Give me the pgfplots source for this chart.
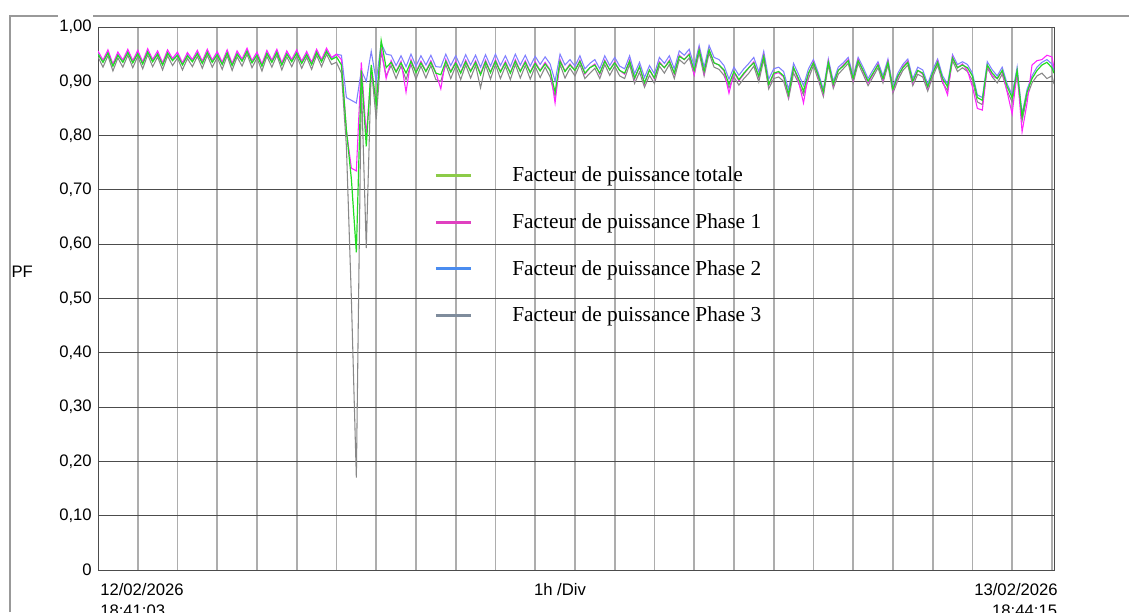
\documentclass[border=0pt]{standalone}
\usepackage{fontspec}
\setmainfont{Liberation Sans}
\newfontfamily\legendfont{Liberation Serif}
\usepackage{pgfplots}
\usepackage{pgfplotstable}
\pgfplotsset{compat=1.18}
\definecolor{cG}{HTML}{22DD22}
\definecolor{cM}{HTML}{FF22FF}
\definecolor{cB}{HTML}{8080FF}
\definecolor{cGr}{HTML}{888888}
\definecolor{lG}{HTML}{8CCB48}
\definecolor{lM}{HTML}{E040C0}
\definecolor{lB}{HTML}{4A8CF0}
\definecolor{lGr}{HTML}{7F8C9C}

\pgfplotstableread{
h G M B Gr
0.000 .950 .956 .952 .945
0.125 .935 .939 .936 .926
0.250 .952 .958 .954 .947
0.375 .928 .932 .929 .919
0.500 .948 .954 .950 .943
0.625 .935 .939 .936 .926
0.750 .953 .959 .955 .948
0.875 .934 .938 .935 .925
1.000 .951 .957 .953 .946
1.125 .932 .936 .933 .923
1.250 .954 .960 .956 .949
1.375 .936 .940 .937 .927
1.500 .950 .956 .952 .945
1.625 .930 .934 .931 .921
1.750 .952 .958 .954 .947
1.875 .938 .942 .939 .929
2.000 .948 .954 .950 .943
2.125 .930 .934 .931 .921
2.250 .947 .953 .949 .942
2.375 .936 .940 .937 .927
2.500 .951 .957 .953 .946
2.625 .933 .937 .934 .924
2.750 .953 .959 .955 .948
2.875 .935 .939 .936 .926
3.000 .949 .955 .951 .944
3.125 .931 .935 .932 .922
3.250 .952 .958 .954 .947
3.375 .929 .933 .930 .920
3.500 .950 .956 .952 .945
3.625 .937 .941 .938 .928
3.750 .955 .961 .957 .950
3.875 .934 .938 .935 .925
4.000 .948 .954 .950 .943
4.125 .928 .932 .929 .919
4.250 .951 .957 .953 .946
4.375 .935 .939 .936 .926
4.500 .953 .959 .955 .948
4.625 .930 .934 .931 .921
4.750 .950 .956 .952 .945
4.875 .936 .940 .937 .927
5.000 .952 .958 .954 .947
5.125 .933 .937 .934 .924
5.250 .949 .955 .951 .944
5.375 .931 .935 .932 .922
5.500 .953 .959 .955 .948
5.625 .936 .940 .937 .927
5.750 .955 .961 .957 .950
5.875 .940 .944 .941 .931
6.000 .945 .950 .950 .935
6.125 .930 .940 .948 .915
6.250 .810 .810 .870 .780
6.375 .720 .740 .865 .500
6.500 .585 .735 .860 .170
6.625 .920 .935 .920 .900
6.750 .780 .800 .900 .593
6.875 .930 .920 .955 .925
7.000 .857 .860 .900 .830
7.125 .975 .960 .970 .955
7.250 .925 .905 .950 .910
7.375 .935 .938 .948 .929
7.500 .917 .918 .929 .905
7.625 .934 .937 .947 .928
7.750 .915 .880 .927 .903
7.875 .937 .940 .950 .931
8.000 .916 .917 .928 .904
8.125 .934 .937 .947 .928
8.250 .918 .919 .930 .906
8.375 .935 .938 .948 .929
8.500 .915 .916 .927 .903
8.625 .912 .886 .926 .900
8.750 .937 .940 .950 .931
8.875 .917 .918 .929 .905
9.000 .934 .937 .947 .928
9.125 .915 .916 .927 .903
9.250 .936 .939 .949 .930
9.375 .918 .919 .930 .906
9.500 .935 .938 .948 .929
9.625 .912 .914 .926 .888
9.750 .936 .939 .949 .930
9.875 .916 .917 .928 .904
10.000 .937 .940 .950 .931
10.125 .917 .918 .929 .905
10.250 .934 .937 .947 .928
10.375 .915 .916 .927 .903
10.500 .937 .940 .950 .931
10.625 .918 .919 .930 .906
10.750 .935 .938 .948 .929
10.875 .916 .917 .928 .904
11.000 .933 .936 .946 .927
11.125 .919 .920 .931 .907
11.250 .932 .935 .945 .926
11.375 .920 .921 .932 .908
11.500 .880 .860 .900 .872
11.625 .937 .940 .950 .931
11.750 .918 .919 .930 .906
11.875 .930 .932 .940 .924
12.000 .920 .920 .928 .910
12.125 .937 .939 .947 .931
12.250 .915 .913 .923 .905
12.375 .925 .925 .933 .915
12.500 .930 .932 .940 .924
12.625 .915 .913 .923 .905
12.750 .937 .939 .947 .931
12.875 .921 .921 .929 .911
13.000 .934 .936 .944 .928
13.125 .920 .920 .928 .910
13.250 .915 .913 .923 .905
13.375 .937 .939 .947 .931
13.500 .906 .904 .914 .896
13.625 .927 .927 .935 .917
13.750 .897 .895 .907 .889
13.875 .921 .921 .929 .911
14.000 .906 .904 .914 .896
14.125 .934 .936 .944 .928
14.250 .925 .925 .933 .915
14.375 .937 .939 .947 .931
14.500 .915 .913 .923 .905
14.625 .946 .948 .956 .940
14.750 .940 .940 .948 .932
14.875 .949 .951 .959 .943
15.000 .920 .912 .928 .912
15.125 .958 .960 .966 .952
15.250 .918 .914 .926 .910
15.375 .958 .958 .966 .952
15.500 .934 .934 .944 .926
15.625 .930 .930 .940 .922
15.750 .921 .919 .929 .911
15.875 .894 .878 .904 .888
16.000 .918 .916 .926 .908
16.125 .903 .901 .911 .893
16.250 .915 .913 .923 .905
16.375 .925 .925 .933 .915
16.500 .934 .936 .944 .928
16.625 .909 .907 .917 .899
16.750 .946 .948 .955 .940
16.875 .894 .892 .904 .886
17.000 .915 .913 .923 .905
17.125 .918 .916 .926 .908
17.250 .910 .908 .918 .900
17.375 .875 .872 .885 .868
17.500 .925 .925 .933 .915
17.625 .905 .900 .913 .897
17.750 .882 .860 .892 .875
17.875 .915 .913 .923 .905
18.000 .934 .936 .940 .929
18.125 .910 .907 .915 .902
18.250 .880 .877 .885 .872
18.375 .935 .937 .941 .930
18.500 .895 .892 .900 .887
18.625 .920 .920 .926 .913
18.750 .928 .930 .934 .923
18.875 .938 .940 .944 .933
19.000 .905 .902 .910 .897
19.125 .938 .940 .944 .933
19.250 .920 .918 .926 .913
19.375 .900 .897 .905 .892
19.500 .915 .913 .921 .908
19.625 .930 .932 .936 .925
19.750 .905 .902 .910 .897
19.875 .935 .937 .941 .930
20.000 .885 .882 .890 .878
20.125 .910 .907 .915 .902
20.250 .925 .927 .931 .920
20.375 .935 .937 .941 .930
20.500 .900 .897 .905 .892
20.625 .920 .920 .926 .913
20.750 .915 .913 .921 .908
20.875 .890 .887 .895 .882
21.000 .915 .913 .921 .908
21.125 .935 .937 .941 .930
21.250 .905 .900 .910 .897
21.375 .890 .875 .895 .883
21.500 .943 .945 .949 .938
21.625 .925 .925 .931 .918
21.750 .930 .932 .936 .925
21.875 .925 .920 .931 .918
22.000 .910 .890 .915 .902
22.125 .870 .850 .875 .862
22.250 .865 .847 .870 .857
22.375 .930 .928 .936 .925
22.500 .915 .910 .921 .908
22.625 .905 .905 .910 .897
22.750 .920 .918 .926 .913
22.875 .890 .880 .895 .882
23.000 .870 .840 .875 .862
23.125 .920 .918 .926 .913
23.250 .835 .807 .840 .827
23.375 .880 .860 .885 .872
23.500 .905 .930 .910 .897
23.625 .920 .938 .926 .910
23.750 .930 .940 .935 .915
23.875 .935 .948 .940 .905
24.000 .925 .945 .932 .910
24.053 .915 .925 .920 .895
}\pfdata

\begin{document}
\begin{tikzpicture}
\path[use as bounding box] (0,0) rectangle (846.75pt,459pt);
\draw[black!40, line width=0.8pt] (7.5pt,0pt) -- (7.5pt,447pt) -- (43.5pt,447pt);
\draw[black!40, line width=0.8pt] (69.75pt,447pt) -- (846.75pt,447pt);
\begin{axis}[
  at={(73.5pt,31.5pt)}, anchor=south west,
  scale only axis, width=717pt, height=407.25pt,
  xmin=0, xmax=24.053, ymin=0, ymax=1,
  xtick={1,2,3,4,5,6,7,8,9,10,11,12,13,14,15,16,17,18,19,20,21,22,23,24},
  xticklabels={},
  ytick={0,0.1,0.2,0.3,0.4,0.5,0.6,0.7,0.8,0.9,1},
  yticklabels={0,{0,10},{0,20},{0,30},{0,40},{0,50},{0,60},{0,70},{0,80},{0,90},{1,00}},
  major tick length=0pt,
  xmajorgrids, ymajorgrids,
  x grid style={draw=black!32, line width=1.3pt},
  y grid style={draw=black!70, line width=0.7pt},
  axis line style={draw=black!70, line width=0.7pt},
  tick label style={font=\fontsize{12.5}{14}\selectfont},
  yticklabel style={inner sep=0pt, xshift=-4.5pt},
  legend style={at={(0.3515,0.7425)}, anchor=north west, draw=none, fill=none,
    inner sep=0pt, row sep=22.4pt, font=\legendfont\fontsize{16}{19}\selectfont,
    nodes={inner sep=0pt}, cells={anchor=west},
    /tikz/every odd column/.append style={column sep=30pt}},
  legend image code/.code={\draw[#1, line width=2.3pt] (0pt,0pt) -- (26.25pt,0pt);},
]
\addplot[cB, line width=0.8pt, forget plot] table[x=h, y=B] {\pfdata};
\addplot[cGr, line width=0.8pt, forget plot] table[x=h, y=Gr] {\pfdata};
\addplot[cM, line width=0.8pt, forget plot] table[x=h, y=M] {\pfdata};
\addplot[cG, line width=0.9pt, forget plot] table[x=h, y=G] {\pfdata};
\addlegendimage{lG}
\addlegendentry{Facteur de puissance totale}
\addlegendimage{lM}
\addlegendentry{Facteur de puissance Phase 1}
\addlegendimage{lB}
\addlegendentry{Facteur de puissance Phase 2}
\addlegendimage{lGr}
\addlegendentry{Facteur de puissance Phase 3}
\end{axis}
\begin{scope}[every node/.style={inner sep=0pt, font=\fontsize{12.5}{14}\selectfont}]
\node[anchor=base west] at (75pt,12.75pt) {12/02/2026};
\node[anchor=base west] at (75pt,-3pt) {18:41:03};
\node[anchor=base east] at (793.5pt,12.75pt) {13/02/2026};
\node[anchor=base east] at (793pt,-3pt) {18:44:15};
\node[anchor=base] at (420pt,12.75pt) {1h /Div};
\node[anchor=base west] at (8.5pt,251.25pt) {PF};
\end{scope}
\end{tikzpicture}
\end{document}
